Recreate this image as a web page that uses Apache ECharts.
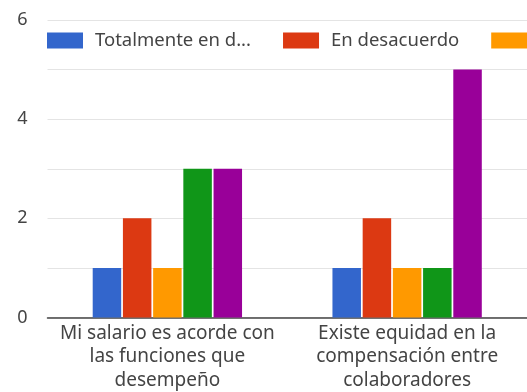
<!DOCTYPE html>
<html><head><meta charset="utf-8">
<script src="https://cdn.jsdelivr.net/npm/echarts@6/dist/echarts.min.js"></script>
<style>html,body{margin:0;padding:0;background:#fff}#c{width:527px;height:392px}</style>
</head><body><div id="c"></div>
<script>
const categories = ["Mi salario es acorde con\nlas funciones que\ndesempeño", "Existe equidad en la\ncompensación entre\ncolaboradores"];
const seriesNames = ["Totalmente en desacuerdo", "En desacuerdo", "Ni de acuerdo ni en desacuerdo", "De acuerdo", "Totalmente de acuerdo"];
const totalmenteDesacuerdo = [1, 1];
const enDesacuerdo = [2, 2];
const neutral = [1, 1];
const deAcuerdo = [3, 1];
const totalmenteAcuerdo = [3, 5];
const yTicks = [0, 2, 4, 6];
const colors = ["#3366cc", "#dc3912", "#ff9900", "#109618", "#990099"];
const values = [totalmenteDesacuerdo, enDesacuerdo, neutral, deAcuerdo, totalmenteAcuerdo];
const font = "Noto Sans";
const chart = echarts.init(document.getElementById('c'));
chart.setOption({
  animation: false,
  color: colors,
  textStyle: {fontFamily: font},
  legend: {
    left: 47, top: 31, padding: 0, width: 2000, itemWidth: 36, itemHeight: 16, itemGap: 32,
    icon: 'rect',
    data: seriesNames,
    formatter: n => n.length > 16 ? n.slice(0, 15) + '...' : n,
    textStyle: {fontSize: 18.5, color: '#444', fontFamily: font, padding: [0, 0, 0, 7]}
  },
  grid: {left: 47.5, top: 20, width: 486, bottom: 65, containLabel: false},
  xAxis: {
    type: 'category', data: categories,
    axisTick: {show: false},
    axisLine: {lineStyle: {color: '#444', width: 1.5}},
    axisLabel: {fontSize: 19, color: '#444', lineHeight: 23.5, margin: 4, fontFamily: font, interval: 0}
  },
  yAxis: {
    type: 'value', min: 0, max: 6, interval: 1,
    axisLabel: {fontSize: 18, color: '#444', margin: 20, fontFamily: font,
      formatter: v => yTicks.includes(v) ? String(v) : ''},
    splitLine: {lineStyle: {color: '#e4e4e4'}}
  },
  series: seriesNames.map((n, i) => ({
    name: n, type: 'bar', data: values[i], barWidth: 28.5, barGap: '6%'
  }))
});
</script></body></html>
